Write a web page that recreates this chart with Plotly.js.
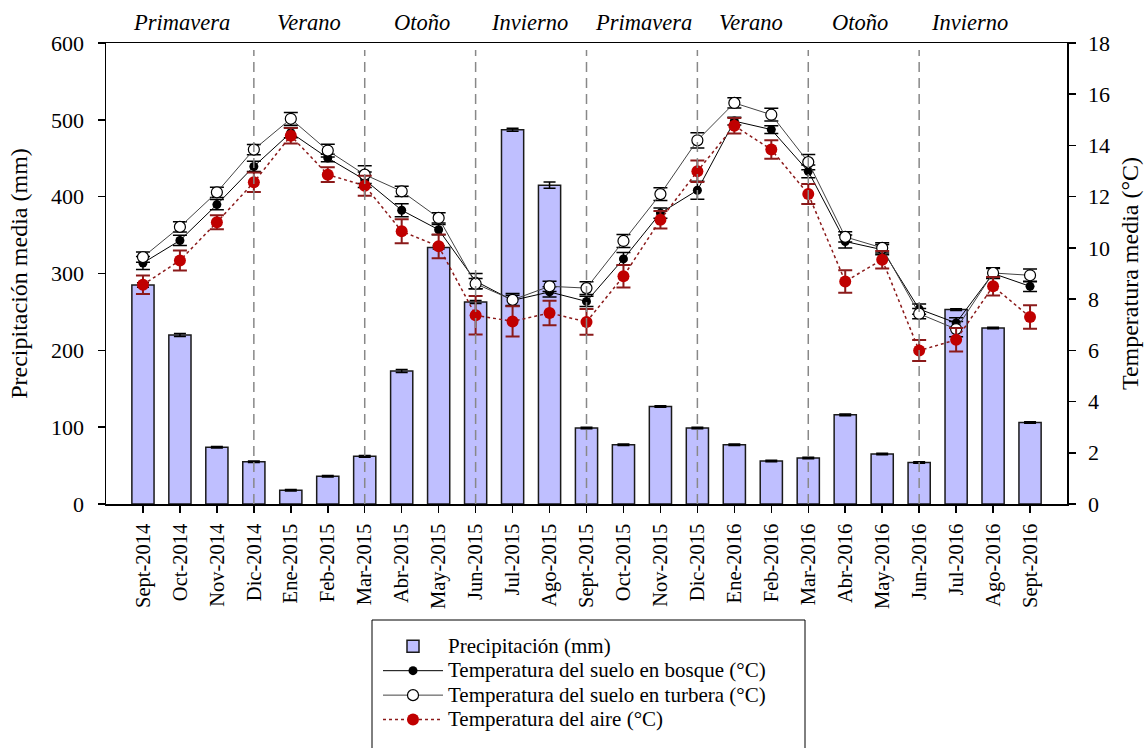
<!DOCTYPE html>
<html>
<head>
<meta charset="utf-8">
<script src="https://cdn.plot.ly/plotly-3.0.1.min.js"></script>
<style>html,body{margin:0;padding:0;background:#fff;}#chart{width:1145px;height:748px;}</style>
</head>
<body>
<div id="chart"></div>
<script>
var months = ['Sept-2014','Oct-2014','Nov-2014','Dic-2014','Ene-2015','Feb-2015','Mar-2015','Abr-2015','May-2015','Jun-2015','Jul-2015','Ago-2015','Sept-2015','Oct-2015','Nov-2015','Dic-2015','Ene-2016','Feb-2016','Mar-2016','Abr-2016','May-2016','Jun-2016','Jul-2016','Ago-2016','Sept-2016'];
var precip = [285,220,74,55,18,36,62,173,334,263,487,415,99,77,127,99,77,56,60,116,65,54,253,229,106];
var precipErr = [3,2,1,1,1,1,1,2,2,2,2,4,1,1,1,1,1,1,1,1,1,1,1,1,1];
var bosque = [9.41,10.29,11.69,13.18,14.5,13.51,12.66,11.47,10.71,8.7,7.95,8.28,7.91,9.57,11.36,12.25,14.95,14.62,12.99,10.25,9.93,7.61,7.07,9.0,8.5];
var bosqueErr = [0.25,0.2,0.2,0.2,0.2,0.15,0.3,0.25,0.2,0.3,0.2,0.2,0.2,0.25,0.2,0.35,0.15,0.15,0.25,0.25,0.2,0.2,0.2,0.2,0.2];
var turbera = [9.64,10.82,12.17,13.84,15.04,13.8,12.86,12.21,11.17,8.6,7.97,8.5,8.43,10.27,12.1,14.2,15.66,15.2,13.35,10.43,10.0,7.43,6.83,9.02,8.93];
var turberaErr = [0.2,0.2,0.2,0.2,0.25,0.25,0.35,0.2,0.2,0.2,0.25,0.2,0.25,0.25,0.25,0.3,0.2,0.25,0.3,0.2,0.2,0.2,0.3,0.2,0.25];
var aire = [8.56,9.51,11.0,12.56,14.38,12.86,12.43,10.65,10.06,7.37,7.13,7.46,7.11,8.89,11.1,12.99,14.77,13.84,12.1,8.69,9.54,5.99,6.41,8.5,7.3];
var aireErr = [0.36,0.39,0.27,0.38,0.3,0.29,0.39,0.47,0.46,0.75,0.59,0.48,0.5,0.44,0.34,0.42,0.3,0.36,0.39,0.44,0.34,0.41,0.46,0.36,0.46];
var seasons = ['Primavera','Verano','Otoño','Invierno','Primavera','Verano','Otoño','Invierno'];
var seasonPos = [1.05,4.5,7.55,10.45,13.55,16.45,19.4,22.35];
var boundaries = ['Dic-2014','Mar-2015','Jun-2015','Sept-2015','Dic-2015','Mar-2016','Jun-2016'];
var seriesNames = ['Precipitación (mm)','Temperatura del suelo en bosque (°C)','Temperatura del suelo en turbera (°C)','Temperatura del aire (°C)'];

var FONT = '"Liberation Serif", "Times New Roman", serif';
function legName(s){ return '<span style="font-size:21px">' + s + '</span>'; }

var traces = [
  {type:'bar', name:legName(seriesNames[0]), x:months, y:precip, width:0.6,
   marker:{color:'#bfbfff', line:{color:'#1a1a1a', width:1.5}},
   error_y:{type:'data', array:precipErr, visible:true, color:'#000', thickness:1.5, width:6}},
  {type:'scatter', mode:'lines+markers', name:legName(seriesNames[1]), x:months, y:bosque, yaxis:'y2',
   line:{color:'#000', width:1}, marker:{color:'#000', size:9},
   error_y:{type:'data', array:bosqueErr, visible:true, color:'#000', thickness:1.5, width:7}},
  {type:'scatter', mode:'lines+markers', name:legName(seriesNames[2]), x:months, y:turbera, yaxis:'y2',
   line:{color:'#444', width:1}, marker:{color:'#fff', size:11, line:{color:'#000', width:1.2}},
   error_y:{type:'data', array:turberaErr, visible:true, color:'#000', thickness:1.5, width:7}},
  {type:'scatter', mode:'lines+markers', name:legName(seriesNames[3]), x:months, y:aire, yaxis:'y2',
   line:{color:'#8b1a1a', width:1.5, dash:'dot'}, marker:{color:'#c00000', size:12},
   error_y:{type:'data', array:aireErr, visible:true, color:'#8b1a1a', thickness:2, width:7}}
];

var shapes = boundaries.map(function(b){
  return {type:'line', xref:'x', yref:'paper', x0:b, x1:b, y0:0, y1:0.985,
          line:{color:'#888', width:1.5, dash:'10px,6px'}, layer:'above'};
});
shapes.push({type:'rect', xref:'paper', yref:'paper',
  x0:(372-106)/961, x1:(805-106)/961, y0:(504-620)/461, y1:(504-770)/461,
  line:{color:'#000', width:1}, fillcolor:'rgba(0,0,0,0)', layer:'above'});

var annotations = seasons.map(function(s,i){
  return {text:s, x:seasonPos[i], xref:'x', y:1.045, yref:'paper', yanchor:'middle', xanchor:'center',
          showarrow:false, font:{family:FONT, size:22.5, color:'#000', style:'italic'}};
});

var layout = {
  width:1145, height:748,
  margin:{l:106, r:78, t:43, b:244, autoexpand:false},
  paper_bgcolor:'#fff', plot_bgcolor:'#fff',
  font:{family:FONT, size:22, color:'#000'},
  showlegend:true,
  bargap:0.4,
  xaxis:{type:'category', range:[-1,25], tickangle:-90, ticks:'outside', ticklen:7, tickwidth:1.5, tickcolor:'#000',
         showline:true, linecolor:'#000', linewidth:1.5, mirror:true, showgrid:false, zeroline:false,
         tickfont:{family:FONT, size:20.5}, ticklabelstandoff:3},
  yaxis:{range:[0,600], dtick:100, ticks:'outside', ticklen:7, tickwidth:1.5, tickcolor:'#000',
         showline:true, linecolor:'#000', linewidth:1.5, showgrid:false, zeroline:false,
         tickfont:{family:FONT, size:22}, ticklabelstandoff:9,
         title:{text:'Precipitación media (mm)', font:{family:FONT, size:24}, standoff:16}},
  yaxis2:{range:[0,18], dtick:2, overlaying:'y', side:'right', ticks:'outside', ticklen:7, tickwidth:1.5, tickcolor:'#000',
          showline:true, linecolor:'#000', linewidth:1.5, showgrid:false, zeroline:false,
          tickfont:{family:FONT, size:22}, ticklabelstandoff:8,
          title:{text:'Temperatura media (°C)', font:{family:FONT, size:24}, standoff:12}},
  legend:{x:(378-106)/961, y:(504-629)/461, xanchor:'left', yanchor:'top', bgcolor:'rgba(0,0,0,0)', borderwidth:0,
          font:{family:FONT, size:16.5, color:'#000'}, traceorder:'normal', itemwidth:60},
  shapes:shapes,
  annotations:annotations
};

Plotly.newPlot('chart', traces, layout, {displayModeBar:false, staticPlot:true});
</script>
</body>
</html>
